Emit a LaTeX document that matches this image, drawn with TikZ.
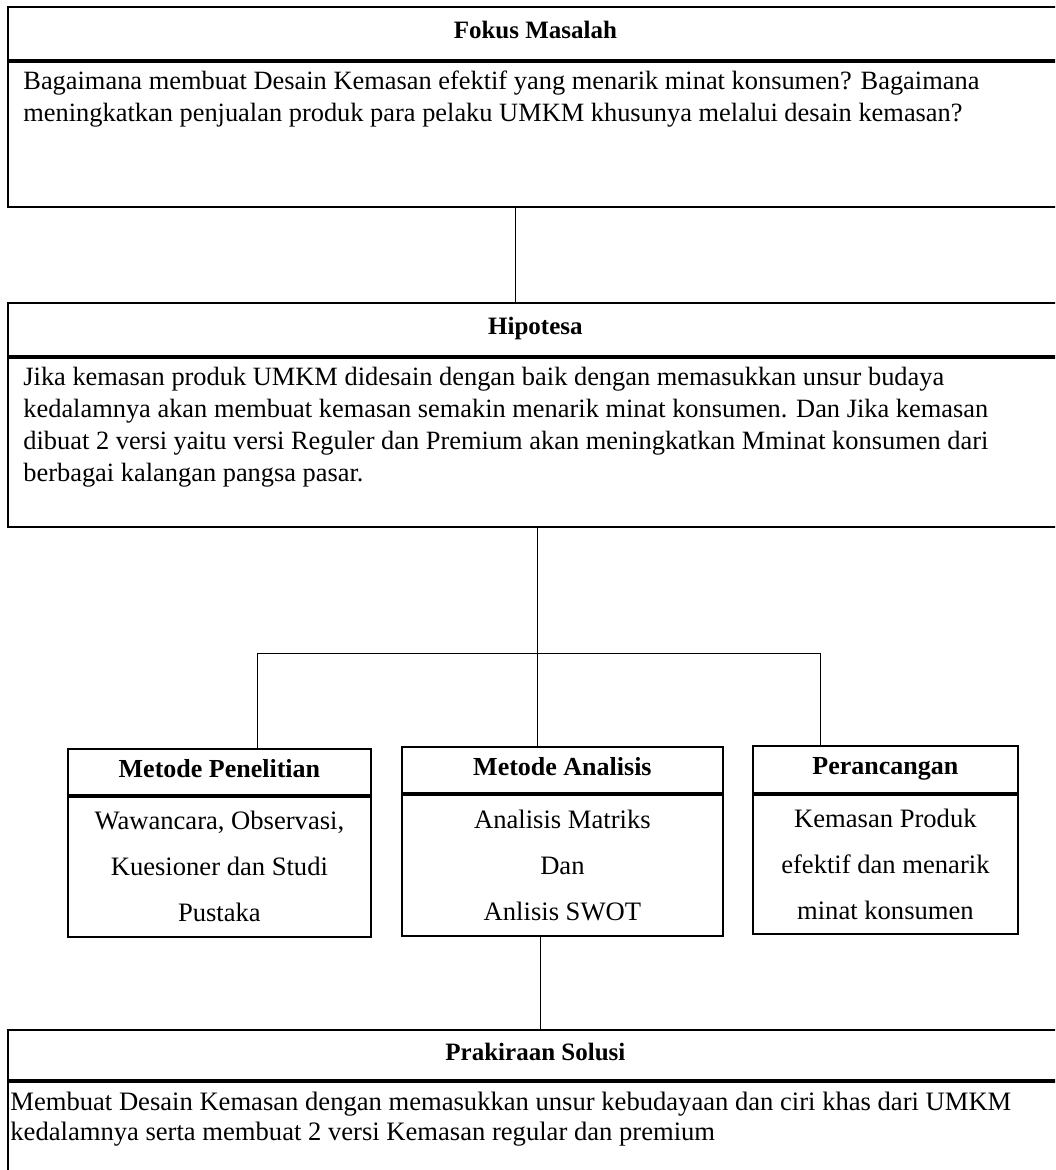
\documentclass[tikz,border=0pt]{standalone}
\usepackage{fontspec}
\setmainfont{Liberation Serif}
\usetikzlibrary{calc}

\begin{document}
\begin{tikzpicture}[x=.5pt,y=-.5pt,inner sep=0pt,font=\fontsize{13.2}{16}\selectfont,
  box/.style={draw,line width=.9pt,anchor=north west},
  head/.style={box,font=\fontsize{12.5}{16}\selectfont\bfseries,text height=1.6ex,text depth=.4ex},
  smallhead/.style={head,font=\fontsize{13}{16}\selectfont\bfseries},
  txt/.style={anchor=north west,align=left},
  mid/.style={box,align=center,font=\fontsize{13.3}{23}\selectfont},
  link/.style={line width=.5pt}]
\clip (0,0) rectangle (1055,1170);
% fokus masalah
\draw node [head,minimum width=527.5pt,minimum height=26.5pt] (fokus) at (7,6) {Fokus Masalah};
\draw node [box,minimum width=527.5pt,minimum height=72.5pt] (fokusbody) at (fokus.south west) {};
\draw node [txt] (fokustxt) at ($(fokusbody.north west)+(16,10)$) {Bagaimana membuat Desain Kemasan efektif yang menarik minat konsumen? Bagaimana\\meningkatkan penjualan produk para pelaku UMKM khusunya melalui desain kemasan?};
% hipotesa
\draw node [head,minimum width=527.5pt,minimum height=26.5pt] (hipo) at (7,302) {Hipotesa};
\draw node [box,minimum width=527.5pt,minimum height=84.5pt] (hipobody) at (hipo.south west) {};
\draw node [txt] (hipotxt) at ($(hipobody.north west)+(16,10)$) {Jika kemasan produk UMKM didesain dengan baik dengan memasukkan unsur budaya\\kedalamnya akan membuat kemasan semakin menarik minat konsumen. Dan Jika kemasan\\dibuat 2 versi yaitu versi Reguler dan Premium akan meningkatkan Mminat konsumen dari\\berbagai kalangan pangsa pasar.};
% tiga kotak
\draw node [smallhead,minimum width=151.5pt,minimum height=23pt] (penelitian) at (67,748) {Metode Penelitian};
\draw node [mid,minimum width=151.5pt,minimum height=70pt] (penelitianbody) at (penelitian.south west) {Wawancara, Observasi,\\Kuesioner dan Studi\\Pustaka};
\draw node [smallhead,minimum width=160.5pt,minimum height=23pt] (analisis) at (401,746) {Metode Analisis};
\draw node [mid,minimum width=160.5pt,minimum height=70.5pt] (analisisbody) at (analisis.south west) {Analisis Matriks\\Dan\\Anlisis SWOT};
\draw node [smallhead,minimum width=132.5pt,minimum height=23.5pt] (rancang) at (752,745) {Perancangan};
\draw node [mid,minimum width=132.5pt,minimum height=69.5pt] (rancangbody) at (rancang.south west) {Kemasan Produk\\efektif dan menarik\\minat konsumen};
% prakiraan solusi
\draw node [head,minimum width=527.5pt,minimum height=25pt] (solusi) at (7,1029) {Prakiraan Solusi};
\draw node [box,minimum width=527.5pt,minimum height=55pt] (solusibody) at (solusi.south west) {};
\draw node [txt,font=\fontsize{13.3}{15}\selectfont] (solusitxt) at ($(solusibody.north west)+(3,11)$) {Membuat Desain Kemasan dengan memasukkan unsur kebudayaan dan ciri khas dari UMKM\\kedalamnya serta membuat 2 versi Kemasan regular dan premium};
% garis
\coordinate (fork) at (537,653);
\coordinate (forkl) at (257,653);
\coordinate (forkr) at (820,653);
\draw [link] ($(fokusbody.south west)+(508,0)$) -- ($(hipo.north west)+(508,0)$);
\draw [link] (hipobody.south -| fork) -- (fork |- analisis.north);
\draw [link] (forkl |- penelitian.north) -- (forkl) -- (forkr) -- (forkr |- rancang.north);
\draw [link] ($(analisisbody.south west)+(139,0)$) -- ($(solusi.north west)+(533,0)$);
\end{tikzpicture}
\end{document}
